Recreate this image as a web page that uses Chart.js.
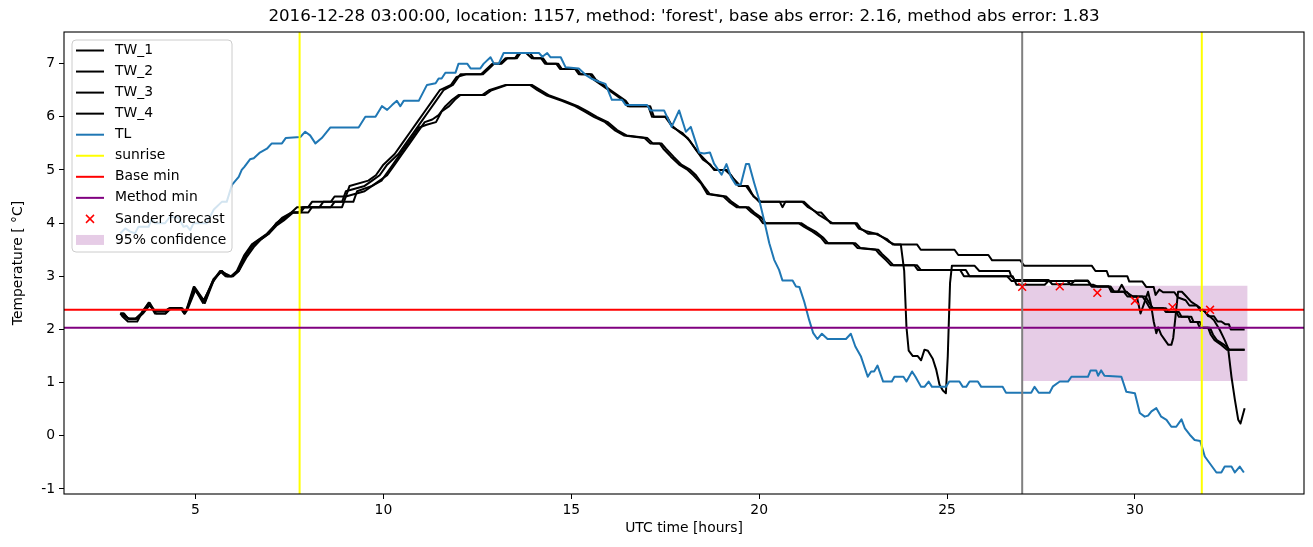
<!DOCTYPE html>
<html>
<head>
<meta charset="utf-8">
<script src="https://cdn.jsdelivr.net/npm/chart.js@4/dist/chart.umd.min.js"></script>
<style>
  html, body { margin: 0; padding: 0; background: #fff; }
  canvas { display: block; }
</style>
</head>
<body>
<canvas id="chart" width="1313" height="547"></canvas>
<script>
// axis limits and reference values
const xLimits = [1.5, 34.5];
const yLimits = [-1.095, 7.595];
const sunriseHours = [7.77, 31.78];
const forecastStart = 27;
const baseMin = 2.37;
const methodMin = 2.03;
const confHours = [27, 33];
const confLow = 1.03;
const confHigh = 2.82;
const sanderHours = [27, 28, 29, 30, 31, 32];
const sanderValues = [2.80, 2.81, 2.69, 2.54, 2.42, 2.37];

// [hour, temperature]
const tw1 = [[3.0,2.3],[3.1,2.3],[3.2,2.2],[3.4,2.2],[3.55,2.3],[3.75,2.5],[3.9,2.35],[4.2,2.35],[4.3,2.4],[4.6,2.4],[4.7,2.3],[4.75,2.35],[4.95,2.8],[5.2,2.5],[5.45,2.9],[5.65,3.1],[5.8,3.0],[5.95,3.0],[6.1,3.1],[6.3,3.4],[6.5,3.6],[6.7,3.7],[6.9,3.8],[7.1,3.95],[7.3,4.1],[7.55,4.2],[7.7,4.3],[8.0,4.3],[8.1,4.4],[8.6,4.4],[8.7,4.5],[9.0,4.5],[9.1,4.7],[9.6,4.8],[9.8,4.9],[10.0,5.1],[10.3,5.3],[10.5,5.5],[10.7,5.7],[10.9,5.9],[11.1,6.1],[11.3,6.3],[11.5,6.5],[11.8,6.6],[11.95,6.75],[12.2,6.8],[12.6,6.8],[12.75,6.9],[12.9,7.0],[13.1,7.0],[13.25,7.1],[13.5,7.1],[13.6,7.2],[13.9,7.2],[14.0,7.1],[14.2,7.1],[14.3,7.0],[14.6,7.0],[14.7,6.9],[15.1,6.9],[15.2,6.8],[15.5,6.8],[15.6,6.7],[15.8,6.6],[16.0,6.5],[16.2,6.4],[16.4,6.3],[16.5,6.2],[17.05,6.2],[17.15,6.0],[17.5,6.0],[17.65,5.85],[17.9,5.7],[18.1,5.6],[18.3,5.4],[18.5,5.2],[18.7,5.1],[18.8,5.0],[19.1,5.0],[19.25,4.9],[19.45,4.7],[19.65,4.7],[19.8,4.55],[20.0,4.4],[21.15,4.4],[21.3,4.3],[21.55,4.2],[21.65,4.2],[21.9,4.0],[22.55,4.0],[22.65,3.9],[22.85,3.85],[23.1,3.8],[23.4,3.7],[23.55,3.6],[24.2,3.6],[24.3,3.5],[25.2,3.5],[25.3,3.4],[26.1,3.4],[26.2,3.3],[26.95,3.3],[27.05,3.2],[28.85,3.2],[28.95,3.1],[29.25,3.1],[29.3,3.0],[29.8,3.0],[29.85,2.9],[30.2,2.9],[30.3,2.8],[30.5,2.8],[30.55,2.65],[30.65,2.75],[30.75,2.7],[31.05,2.7],[31.15,2.6],[31.35,2.55],[31.45,2.45],[31.65,2.45],[31.75,2.35],[31.85,2.35],[31.95,2.25],[32.1,2.25],[32.2,2.15],[32.3,2.15],[32.4,2.1],[32.5,2.1],[32.55,2.0],[32.92,2.0]];
const tw2 = [[3.0,2.3],[3.05,2.25],[3.2,2.15],[3.45,2.15],[3.6,2.35],[3.78,2.5],[3.95,2.3],[4.2,2.3],[4.35,2.4],[4.65,2.4],[4.72,2.3],[4.8,2.4],[5.0,2.75],[5.25,2.5],[5.5,2.95],[5.7,3.1],[5.85,3.0],[6.0,3.0],[6.15,3.1],[6.35,3.4],[6.55,3.6],[6.75,3.7],[6.95,3.8],[7.15,4.0],[7.35,4.1],[7.6,4.2],[7.8,4.2],[7.9,4.3],[8.3,4.3],[8.4,4.4],[8.9,4.4],[9.0,4.6],[9.5,4.7],[9.7,4.8],[9.9,4.9],[10.1,5.1],[10.4,5.3],[10.6,5.5],[10.8,5.7],[11.0,5.9],[11.2,6.1],[11.4,6.3],[11.6,6.5],[11.85,6.6],[12.05,6.8],[12.65,6.8],[12.8,6.9],[12.95,7.0],[13.15,7.0],[13.3,7.1],[13.55,7.1],[13.65,7.2],[13.8,7.2],[13.95,7.1],[14.25,7.1],[14.35,7.0],[14.65,7.0],[14.75,6.9],[15.15,6.9],[15.25,6.8],[15.55,6.8],[15.65,6.7],[15.85,6.6],[16.05,6.5],[16.25,6.4],[16.45,6.3],[16.55,6.2],[17.1,6.2],[17.2,6.0],[17.55,6.0],[17.7,5.8],[17.95,5.7],[18.15,5.55],[18.35,5.35],[18.55,5.2],[18.75,5.05],[18.85,5.0],[19.15,5.0],[19.3,4.85],[19.5,4.7],[19.7,4.7],[19.85,4.5],[20.05,4.4],[20.55,4.4],[20.62,4.3],[20.7,4.4],[21.2,4.4],[21.35,4.3],[21.6,4.15],[21.95,4.0],[22.6,4.0],[22.7,3.9],[22.9,3.8],[23.15,3.8],[23.45,3.65],[23.6,3.6],[23.77,3.6],[23.86,3.1],[23.92,2.05],[23.98,1.6],[24.09,1.5],[24.22,1.5],[24.31,1.42],[24.4,1.62],[24.49,1.6],[24.62,1.45],[24.71,1.25],[24.8,0.96],[24.89,0.85],[24.97,0.8],[25.02,1.5],[25.08,2.87],[25.13,3.2],[25.73,3.2],[25.86,3.1],[26.66,3.1],[26.71,3.0],[26.8,2.93],[27.7,2.93],[27.8,2.85],[28.3,2.85],[28.4,2.92],[28.75,2.92],[28.85,2.81],[29.3,2.81],[29.37,2.71],[29.55,2.71],[29.65,2.84],[29.75,2.71],[29.95,2.62],[30.05,2.62],[30.15,2.3],[30.25,2.5],[30.35,2.71],[30.42,2.5],[30.5,2.15],[30.57,1.93],[30.62,2.04],[30.7,1.9],[30.8,1.8],[30.89,1.71],[30.97,1.71],[31.02,1.84],[31.08,2.24],[31.15,2.71],[31.25,2.71],[31.37,2.62],[31.5,2.52],[31.63,2.46],[31.81,2.37],[31.95,2.27],[32.1,2.18],[32.26,1.99],[32.39,1.8],[32.48,1.65],[32.57,1.11],[32.66,0.68],[32.75,0.3],[32.81,0.23],[32.92,0.52]];
const tw3 = [[3.0,2.3],[3.1,2.25],[3.25,2.2],[3.45,2.2],[3.6,2.3],[3.77,2.45],[3.93,2.35],[4.2,2.35],[4.32,2.4],[4.6,2.4],[4.7,2.35],[4.76,2.35],[4.97,2.8],[5.22,2.55],[5.47,2.9],[5.67,3.1],[5.8,3.05],[5.95,3.0],[6.12,3.1],[6.32,3.4],[6.52,3.6],[6.72,3.7],[6.92,3.8],[7.12,3.95],[7.3,4.05],[7.55,4.2],[7.75,4.2],[7.85,4.3],[8.6,4.3],[8.7,4.4],[9.2,4.4],[9.3,4.6],[9.7,4.7],[9.9,4.8],[10.1,4.9],[10.3,5.1],[10.5,5.3],[10.7,5.5],[10.9,5.7],[11.1,5.9],[11.3,5.95],[11.47,6.03],[11.65,6.2],[11.83,6.32],[12.0,6.41],[12.63,6.41],[12.81,6.5],[13.25,6.6],[13.9,6.6],[14.1,6.5],[14.35,6.4],[14.75,6.3],[15.1,6.2],[15.35,6.1],[15.6,6.0],[15.9,5.9],[16.15,5.75],[16.4,5.65],[16.95,5.6],[17.1,5.5],[17.35,5.5],[17.45,5.4],[17.65,5.25],[17.87,5.1],[18.1,5.0],[18.25,4.9],[18.45,4.75],[18.62,4.55],[19.05,4.5],[19.2,4.4],[19.4,4.3],[19.65,4.3],[19.8,4.2],[20.0,4.1],[20.1,4.0],[21.05,4.0],[21.2,3.93],[21.42,3.84],[21.64,3.73],[21.77,3.62],[22.5,3.62],[22.62,3.53],[23.1,3.5],[23.2,3.42],[23.38,3.3],[23.5,3.21],[24.13,3.21],[24.22,3.12],[25.35,3.12],[25.45,3.0],[26.6,3.0],[26.72,2.91],[28.75,2.91],[28.85,2.81],[29.3,2.81],[29.4,2.71],[29.7,2.71],[29.8,2.62],[30.2,2.62],[30.3,2.52],[30.4,2.4],[30.75,2.4],[30.82,2.33],[31.1,2.33],[31.17,2.24],[31.42,2.24],[31.48,2.14],[31.66,2.14],[31.73,2.03],[31.95,2.03],[32.02,1.9],[32.12,1.8],[32.3,1.71],[32.45,1.62],[32.92,1.62]];
const tw4 = [[3.0,2.3],[3.08,2.3],[3.22,2.2],[3.42,2.2],[3.58,2.3],[3.76,2.5],[3.92,2.3],[4.2,2.3],[4.34,2.4],[4.62,2.4],[4.7,2.3],[4.78,2.4],[4.98,2.75],[5.24,2.5],[5.48,2.95],[5.7,3.1],[5.83,3.0],[5.98,3.0],[6.15,3.1],[6.35,3.35],[6.55,3.55],[6.75,3.7],[6.95,3.8],[7.15,3.95],[7.35,4.05],[7.6,4.2],[8.0,4.2],[8.1,4.3],[8.9,4.3],[9.0,4.5],[9.5,4.6],[9.7,4.7],[9.95,4.8],[10.15,5.0],[10.35,5.2],[10.55,5.4],[10.75,5.6],[10.95,5.8],[11.15,5.85],[11.4,5.9],[11.55,6.1],[11.75,6.2],[11.9,6.32],[12.05,6.41],[12.7,6.41],[12.88,6.5],[13.3,6.6],[13.95,6.6],[14.18,6.5],[14.42,6.4],[14.82,6.3],[15.17,6.2],[15.43,6.1],[15.68,6.0],[15.97,5.9],[16.22,5.75],[16.47,5.65],[17.02,5.6],[17.17,5.5],[17.4,5.5],[17.52,5.4],[17.72,5.25],[17.93,5.1],[18.17,5.0],[18.32,4.9],[18.52,4.7],[18.68,4.55],[19.12,4.5],[19.27,4.4],[19.47,4.3],[19.72,4.3],[19.87,4.2],[20.07,4.1],[20.17,4.0],[21.12,4.0],[21.27,3.93],[21.5,3.84],[21.7,3.73],[21.84,3.62],[22.56,3.62],[22.7,3.53],[23.17,3.5],[23.27,3.42],[23.45,3.3],[23.57,3.21],[24.2,3.21],[24.3,3.12],[25.5,3.12],[25.6,3.0],[26.75,3.0],[26.85,2.84],[27.6,2.84],[27.7,2.91],[28.2,2.91],[28.3,2.84],[28.9,2.84],[29.0,2.81],[29.35,2.81],[29.45,2.71],[29.78,2.71],[29.88,2.62],[30.28,2.62],[30.38,2.5],[30.48,2.4],[30.82,2.4],[30.9,2.33],[31.17,2.33],[31.24,2.24],[31.5,2.24],[31.56,2.14],[31.73,2.14],[31.8,2.03],[32.0,2.03],[32.08,1.9],[32.18,1.8],[32.38,1.71],[32.52,1.62],[32.92,1.62]];
const tl = [[3.0,3.81],[3.13,3.9],[3.26,3.84],[3.39,3.81],[3.48,3.93],[3.75,3.93],[3.84,4.09],[3.92,4.0],[4.19,4.0],[4.32,4.12],[4.55,4.1],[4.68,3.93],[4.77,3.95],[4.86,3.87],[4.95,4.0],[5.3,4.0],[5.48,4.25],[5.7,4.4],[5.83,4.4],[5.97,4.72],[6.15,4.87],[6.23,5.0],[6.3,5.06],[6.45,5.2],[6.55,5.22],[6.7,5.32],[6.9,5.4],[7.03,5.5],[7.3,5.5],[7.4,5.6],[7.79,5.62],[7.92,5.72],[8.05,5.65],[8.19,5.5],[8.36,5.6],[8.59,5.8],[9.34,5.8],[9.52,6.0],[9.79,6.0],[9.96,6.2],[10.1,6.13],[10.23,6.22],[10.36,6.3],[10.45,6.2],[10.54,6.3],[10.94,6.3],[11.16,6.6],[11.39,6.63],[11.47,6.72],[11.55,6.72],[11.65,6.83],[11.92,6.83],[12.0,7.0],[12.23,7.0],[12.32,6.91],[12.58,6.91],[12.67,7.0],[12.85,7.12],[12.94,7.0],[13.07,7.0],[13.2,7.2],[14.14,7.2],[14.23,7.13],[14.36,7.2],[14.45,7.12],[14.72,7.12],[14.85,6.93],[15.2,6.91],[15.38,6.79],[15.56,6.71],[15.74,6.66],[15.91,6.62],[16.08,6.32],[16.35,6.32],[16.45,6.22],[17.02,6.22],[17.11,6.12],[17.47,6.12],[17.67,5.81],[17.87,6.12],[18.05,5.72],[18.18,5.81],[18.4,5.33],[18.53,5.31],[18.69,5.33],[18.8,5.12],[19.0,4.91],[19.13,5.11],[19.25,4.87],[19.38,4.72],[19.51,4.72],[19.65,5.11],[19.73,5.11],[19.87,4.75],[20.0,4.44],[20.13,4.06],[20.27,3.62],[20.4,3.31],[20.53,3.12],[20.62,2.92],[20.89,2.92],[20.98,2.81],[21.07,2.8],[21.2,2.52],[21.33,2.18],[21.44,1.93],[21.55,1.82],[21.67,1.92],[21.82,1.82],[22.31,1.82],[22.44,1.92],[22.56,1.68],[22.71,1.49],[22.89,1.11],[22.98,1.21],[23.06,1.21],[23.15,1.32],[23.3,1.02],[23.53,1.02],[23.6,1.11],[23.84,1.11],[23.92,1.02],[24.07,1.21],[24.16,1.11],[24.31,0.92],[24.4,0.92],[24.51,1.02],[24.6,0.92],[24.97,0.92],[25.06,1.02],[25.33,1.02],[25.42,0.92],[25.51,0.92],[25.6,1.02],[25.82,1.02],[25.91,0.92],[26.48,0.92],[26.57,0.81],[27.24,0.81],[27.33,0.92],[27.44,0.81],[27.73,0.81],[27.82,0.93],[28.0,1.02],[28.22,1.02],[28.31,1.11],[28.75,1.11],[28.82,1.23],[28.97,1.23],[29.02,1.13],[29.1,1.23],[29.19,1.13],[29.64,1.11],[29.77,0.83],[30.0,0.8],[30.13,0.43],[30.26,0.36],[30.35,0.38],[30.44,0.46],[30.57,0.52],[30.7,0.36],[30.84,0.3],[30.97,0.17],[31.1,0.17],[31.24,0.31],[31.33,0.14],[31.46,0.02],[31.59,-0.08],[31.74,-0.1],[31.86,-0.39],[32.17,-0.69],[32.3,-0.69],[32.39,-0.58],[32.57,-0.58],[32.66,-0.69],[32.79,-0.58],[32.9,-0.69]];

const FONT = 'DejaVu Sans';
Chart.defaults.font.family = FONT;
Chart.defaults.color = '#000';

function lineSet(data, color, order) {
  return {
    type: 'line', data, borderColor: color, borderWidth: 2,
    pointRadius: 0, fill: false, tension: 0, order,
    borderJoinStyle: 'round'
  };
}

const datasets = [
  {
    type: 'line',
    data: confHours.map(h => [h, confHigh]),
    borderWidth: 0, borderColor: 'rgba(0,0,0,0)', pointRadius: 0,
    backgroundColor: 'rgba(128,0,128,0.2)',
    fill: { value: confLow }, order: 30
  },
  lineSet(tw1, '#000', 20),
  lineSet(tw2, '#000', 19),
  lineSet(tw3, '#000', 18),
  lineSet(tw4, '#000', 17),
  lineSet(tl, '#1f77b4', 16),
  ...sunriseHours.map(h => lineSet([[h, yLimits[0]], [h, yLimits[1]]], '#ffff00', 15)),
  lineSet(xLimits.map(x => [x, baseMin]), '#ff0000', 14),
  lineSet(xLimits.map(x => [x, methodMin]), '#800080', 13),
  lineSet([[forecastStart, yLimits[0]], [forecastStart, yLimits[1]]], '#808080', 12),
  {
    type: 'scatter',
    data: sanderHours.map((h, i) => [h, sanderValues[i]]),
    pointStyle: 'crossRot', pointRadius: 5.5, pointBorderWidth: 1.5,
    borderColor: '#ff0000', backgroundColor: '#ff0000', showLine: false, order: 1
  }
];

const legendItems = [
  { label: 'TW_1', kind: 'line', color: '#000' },
  { label: 'TW_2', kind: 'line', color: '#000' },
  { label: 'TW_3', kind: 'line', color: '#000' },
  { label: 'TW_4', kind: 'line', color: '#000' },
  { label: 'TL', kind: 'line', color: '#1f77b4' },
  { label: 'sunrise', kind: 'line', color: '#ffff00' },
  { label: 'Base min', kind: 'line', color: '#ff0000' },
  { label: 'Method min', kind: 'line', color: '#800080' },
  { label: 'Sander forecast', kind: 'cross', color: '#ff0000' },
  { label: '95% confidence', kind: 'patch', color: 'rgba(128,0,128,0.2)' }
];

const framePlugin = {
  id: 'frameAndLegend',
  afterDraw(chart) {
    const { ctx, chartArea: a } = chart;
    ctx.save();
    ctx.strokeStyle = '#000';
    ctx.lineWidth = 1.1;
    ctx.strokeRect(a.left, a.top, a.right - a.left, a.bottom - a.top);

    // legend box, upper left inside the axes
    const bx = a.left + 8, by = a.top + 8, bw = 160, bh = 212, row = 21.05;
    ctx.beginPath();
    if (ctx.roundRect) ctx.roundRect(bx, by, bw, bh, 4); else ctx.rect(bx, by, bw, bh);
    ctx.fillStyle = 'rgba(255,255,255,0.8)';
    ctx.fill();
    ctx.strokeStyle = '#cccccc';
    ctx.lineWidth = 1;
    ctx.stroke();

    ctx.font = '13.9px "' + FONT + '"';
    ctx.textBaseline = 'middle';
    legendItems.forEach((item, i) => {
      const cy = by + 10.5 + i * row;
      const hx0 = bx + 4, hx1 = bx + 32;
      if (item.kind === 'line') {
        ctx.strokeStyle = item.color;
        ctx.lineWidth = 2;
        ctx.beginPath(); ctx.moveTo(hx0, cy); ctx.lineTo(hx1, cy); ctx.stroke();
      } else if (item.kind === 'cross') {
        const cx = (hx0 + hx1) / 2, r = 4;
        ctx.strokeStyle = item.color;
        ctx.lineWidth = 1.5;
        ctx.beginPath();
        ctx.moveTo(cx - r, cy - r); ctx.lineTo(cx + r, cy + r);
        ctx.moveTo(cx - r, cy + r); ctx.lineTo(cx + r, cy - r);
        ctx.stroke();
      } else {
        ctx.fillStyle = item.color;
        ctx.fillRect(hx0, cy - 5, hx1 - hx0, 10);
      }
      ctx.fillStyle = '#000';
      ctx.fillText(item.label, bx + 43, cy);
    });
    ctx.restore();
  }
};

new Chart(document.getElementById('chart'), {
  type: 'line',
  data: { datasets },
  options: {
    responsive: false,
    animation: false,
    events: [],
    layout: { padding: { left: 0, right: 9, top: 0, bottom: 0 } },
    scales: {
      x: {
        type: 'linear', min: xLimits[0], max: xLimits[1],
        ticks: { stepSize: 5, includeBounds: false, color: '#000', font: { size: 13.9 }, padding: 3, maxRotation: 0 },
        grid: { drawOnChartArea: false, drawTicks: true, tickLength: 5, tickColor: '#000', tickWidth: 1 },
        border: { display: false },
        title: { display: true, text: 'UTC time [hours]', color: '#000', font: { size: 13.9 }, padding: { top: 0, bottom: 10 } },
        afterFit: s => { s.height = 53; }
      },
      y: {
        type: 'linear', min: yLimits[0], max: yLimits[1],
        ticks: { stepSize: 1, includeBounds: false, color: '#000', font: { size: 13.9 }, padding: 4 },
        grid: { drawOnChartArea: false, drawTicks: true, tickLength: 5, tickColor: '#000', tickWidth: 1 },
        border: { display: false },
        title: { display: true, text: 'Temperature [ °C]', color: '#000', font: { size: 13.9 }, padding: { top: 10, bottom: 0 } },
        afterFit: s => { s.width = 64; }
      }
    },
    plugins: {
      legend: { display: false },
      tooltip: { enabled: false },
      title: {
        display: true, fullSize: false,
        text: "2016-12-28 03:00:00, location: 1157, method: 'forest', base abs error: 2.16, method abs error: 1.83",
        color: '#000', font: { size: 16.67, weight: 'normal' },
        padding: { top: 7, bottom: 5 }
      }
    }
  },
  plugins: [framePlugin]
});
</script>
</body>
</html>
